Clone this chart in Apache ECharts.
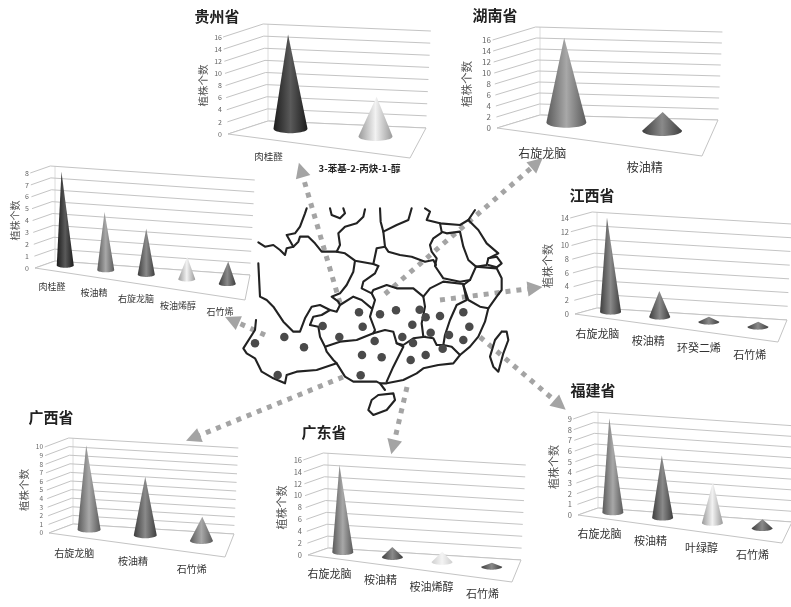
<!DOCTYPE html>
<html>
<head>
<meta charset="utf-8">
<style>
html, body { margin: 0; padding: 0; background: #fff; }
#main { width: 791px; height: 607px; filter: blur(0.55px); }
</style>
<script src="https://cdn.jsdelivr.net/npm/echarts@6/dist/echarts.min.js"></script>
</head>
<body>
<div id="main"></div>
<script>
var FONT = '"Noto Sans CJK SC"';

// plant counts per compound, one pair of lists per province
var guizhouCats = ["肉桂醛", "3-苯基-2-丙炔-1-醇"];
var guizhouVals = [16, 7];
var yunnanCats = ["肉桂醛", "桉油精", "右旋龙脑", "桉油烯醇", "石竹烯"];
var yunnanVals = [8, 5, 4, 2, 2];
var hunanCats = ["右旋龙脑", "桉油精"];
var hunanVals = [16, 4];
var jiangxiCats = ["右旋龙脑", "桉油精", "环癸二烯", "石竹烯"];
var jiangxiVals = [14, 4, 1, 1];
var fujianCats = ["右旋龙脑", "桉油精", "叶绿醇", "石竹烯"];
var fujianVals = [9, 6, 4, 1];
var guangdongCats = ["右旋龙脑", "桉油精", "桉油烯醇", "石竹烯"];
var guangdongVals = [15, 2, 2, 1];
var guangxiCats = ["右旋龙脑", "桉油精", "石竹烯"];
var guangxiVals = [10, 7, 3];

// y axis ticks
var ticks16 = [0, 2, 4, 6, 8, 10, 12, 14, 16];
var ticks14 = [0, 2, 4, 6, 8, 10, 12, 14];
var ticks10 = [0, 1, 2, 3, 4, 5, 6, 7, 8, 9, 10];
var ticks9 = [0, 1, 2, 3, 4, 5, 6, 7, 8, 9];
var ticks8 = [0, 1, 2, 3, 4, 5, 6, 7, 8];

// map outline, units are 1/3 px from the map corner
var mapBorders = [
    [[85, 157], [105, 170], [130, 165], [150, 180], [165, 195], [170, 175], [190, 170], [170, 135], [195, 130], [210, 110], [225, 70], [230, 55]],
    [[190, 170], [205, 155], [210, 140], [235, 140], [255, 160], [275, 185], [320, 185], [345, 190], [375, 212], [430, 222], [445, 228]],
    [[320, 185], [330, 165], [325, 130], [345, 110], [380, 100], [400, 80], [405, 58]],
    [[300, 55], [305, 75], [330, 85], [345, 70], [340, 55]],
    [[450, 55], [452, 95], [460, 125], [465, 170], [440, 175], [430, 222]],
    [[460, 125], [500, 105], [535, 90], [545, 55]],
    [[465, 170], [475, 185], [510, 195], [545, 200], [585, 215], [610, 210], [618, 225]],
    [[635, 128], [610, 145], [600, 165], [605, 185], [620, 205], [615, 228], [640, 265], [690, 275], [720, 270], [738, 230]],
    [[585, 55], [600, 65], [590, 90], [630, 100], [690, 105], [715, 90], [735, 60]],
    [[630, 100], [635, 125], [650, 130], [690, 125], [700, 170], [715, 210], [738, 230], [770, 225], [775, 205], [805, 190], [770, 160], [745, 120], [715, 90]],
    [[775, 205], [800, 200], [815, 220], [800, 232], [775, 225]],
    [[738, 230], [800, 235], [815, 265], [815, 300], [800, 320], [775, 355], [765, 395], [745, 440], [720, 470], [690, 495]],
    [[700, 285], [715, 330], [750, 350], [775, 355]],
    [[720, 270], [700, 285], [710, 330], [680, 345], [660, 390], [645, 435], [640, 465], [665, 470], [690, 495], [670, 520], [625, 525], [580, 535], [560, 550], [520, 570], [470, 580], [450, 580]],
    [[445, 228], [435, 250], [400, 275], [395, 295], [425, 310], [430, 300], [470, 285], [500, 295], [550, 295], [580, 320], [600, 295], [640, 275], [700, 282]],
    [[580, 320], [585, 350], [575, 400], [580, 440], [610, 445], [620, 465], [640, 465]],
    [[425, 310], [435, 330], [420, 380], [435, 420], [430, 430], [465, 420], [490, 425], [500, 460], [520, 470], [490, 530], [470, 575]],
    [[500, 460], [520, 465], [550, 445], [585, 440]],
    [[375, 212], [370, 245], [350, 285], [330, 310], [305, 320], [325, 335], [330, 345]],
    [[85, 220], [90, 320], [110, 330], [130, 350], [160, 395], [190, 425], [210, 425], [225, 385], [245, 350], [270, 345], [300, 360], [320, 365], [330, 345], [370, 320], [395, 330], [425, 355]],
    [[240, 405], [250, 380], [275, 375], [300, 360]],
    [[240, 405], [265, 410], [270, 440], [285, 470], [290, 485], [310, 510], [320, 520], [345, 560], [370, 575], [440, 575], [450, 580], [465, 600]],
    [[285, 470], [330, 455], [380, 450], [430, 430]],
    [[78, 390], [75, 420], [40, 475], [50, 490], [75, 505], [95, 545], [130, 565], [165, 580], [170, 555], [200, 545], [260, 540], [320, 520]],
    [[815, 425], [830, 425], [835, 450], [820, 490], [805, 545], [790, 530], [780, 500], [795, 450], [815, 425]],
    [[445, 615], [490, 610], [495, 630], [470, 660], [430, 675], [415, 660], [425, 630], [445, 615]]
];

// sampling sites on the map
var siteDots = [[75, 460], [163, 441], [222, 472], [143, 555], [278, 408], [328, 441], [387, 367], [398, 410], [392, 556], [396, 495], [455, 502], [434, 453], [450, 373], [498, 361], [547, 404], [569, 359], [517, 441], [549, 459], [587, 382], [630, 378], [602, 428], [638, 476], [587, 495], [542, 510], [657, 435], [700, 367], [718, 410], [700, 450]];

// arrows from the map out to each panel (page px)
var arrowRoutes = [
    [[340, 303], [301, 170]],
    [[385, 294], [537, 163]],
    [[440, 300], [535, 288]],
    [[480, 337], [560, 405]],
    [[407, 387], [393, 447]],
    [[343, 377], [193, 438]],
    [[265, 335], [232, 320]]
];

// cone colours: [edge, middle]
var DARKEST = ["#1c1c1c", "#5a5a5a"], DARK = ["#3e3e3e", "#8a8a8a"], MID = ["#5a5a5a", "#a8a8a8"], LIGHT = ["#9a9a9a", "#f2f2f2"], PALE = ["#cfcfcf", "#f4f4f4"];

// fl/fr/bl/br: floor corners. titlePos: title centre. labelOff: category label offset from the front edge
var panels = [
    {title: "贵州省", titlePos: [217, 18], cats: guizhouCats, vals: guizhouVals, ticks: ticks16, shades: [DARKEST, LIGHT],
        fl: [228, 134], fr: [410, 158], bl: [268, 121], br: [426, 128], top: 37, step: 2,
        hw: 17, labelOff: [-5, 16], labelSize: 9.5, tickSize: 7, nameSize: 10.5, nameGap: 20, boldLast: true},
    {title: "", cats: yunnanCats, vals: yunnanVals, ticks: ticks8, shades: [DARKEST, MID, DARK, LIGHT, DARK],
        fl: [35, 268], fr: [245, 300], bl: [55, 261], br: [250, 275], top: 173, step: 1,
        hw: 8.5, labelOff: [-4, 15], labelSize: 9, tickSize: 7, nameSize: 10, nameGap: 15},
    {title: "湖南省", titlePos: [495, 17], cats: hunanCats, vals: hunanVals, ticks: ticks16, shades: [MID, DARK],
        fl: [497, 128], fr: [702, 156], bl: [540, 115], br: [718, 120], top: 40, step: 2,
        hw: 20, labelOff: [-6, 18], labelSize: 12, tickSize: 8, nameSize: 11.5, nameGap: 25},
    {title: "江西省", titlePos: [592, 197], cats: jiangxiCats, vals: jiangxiVals, ticks: ticks14, shades: [DARK, DARK, DARK, DARK],
        fl: [575, 314], fr: [778, 342], bl: [597, 308], br: [787, 320], top: 218, step: 2,
        hw: 10.5, labelOff: [-3, 16], labelSize: 11, tickSize: 7.5, nameSize: 11, nameGap: 22},
    {title: "福建省", titlePos: [593, 392], cats: fujianCats, vals: fujianVals, ticks: ticks9, shades: [MID, DARK, LIGHT, DARK],
        fl: [578, 515], fr: [782, 543], bl: [598, 508], br: [792, 522], top: 419, step: 1,
        hw: 10.5, labelOff: [-4, 15], labelSize: 11, tickSize: 7.5, nameSize: 11, nameGap: 19},
    {title: "广东省", titlePos: [324, 434], cats: guangdongCats, vals: guangdongVals, ticks: ticks16, shades: [MID, DARK, PALE, DARK],
        fl: [308, 555], fr: [512, 582], bl: [328, 548], br: [521, 560], top: 460, step: 2,
        hw: 10.5, labelOff: [-4, 15], labelSize: 11, tickSize: 7.5, nameSize: 11, nameGap: 21},
    {title: "广西省", titlePos: [51, 419], cats: guangxiCats, vals: guangxiVals, ticks: ticks10, shades: [MID, DARK, MID],
        fl: [49, 533], fr: [225, 557], bl: [73, 524], br: [234, 534], top: 447, step: 1,
        hw: 11.5, labelOff: [-4, 16], labelSize: 10, tickSize: 6.5, nameSize: 10.5, nameGap: 20}
];

var LEAN = 0.05;

function lerp(a, b, t) {
    return [a[0] + (b[0] - a[0]) * t, a[1] + (b[1] - a[1]) * t];
}

// flat grid pixel -> skewed box on the page
function project(p, sys, px, py, depth) {
    var u = (px - sys.x) / sys.width;
    var h = sys.y + sys.height - py;
    var floor = lerp(lerp(p.fl, p.fr, u), lerp(p.bl, p.br, u), depth);
    return [floor[0] + LEAN * h * (2 * u - 1), floor[1] - h];
}

function wallRender(p) {
    return function (params, api) {
        var sys = params.coordSys;
        var y = api.coord([0, api.value(1)])[1];
        var left = sys.x, right = sys.x + sys.width;
        var line = {
            type: "polyline",
            shape: {points: [project(p, sys, left, y, 0), project(p, sys, left, y, 1), project(p, sys, right, y, 1)]},
            style: {stroke: "#c4c4c4", lineWidth: 1, fill: null}
        };
        if (api.value(1) !== 0) return line;
        var bottom = sys.y + sys.height;
        return {
            type: "group",
            children: [line, {
                type: "polygon",
                shape: {points: [project(p, sys, left, bottom, 0), project(p, sys, right, bottom, 0), project(p, sys, right, bottom, 1), project(p, sys, left, bottom, 1)]},
                style: {stroke: "#c4c4c4", lineWidth: 1, fill: "#fff"}
            }, {
                type: "line",
                shape: {x1: p.bl[0], y1: p.bl[1], x2: p.bl[0], y2: p.bl[1] - sys.height},
                style: {stroke: "#dcdcdc", lineWidth: 1}
            }]
        };
    };
}

function coneRender(p) {
    return function (params, api) {
        var sys = params.coordSys;
        var i = params.dataIndex;
        var base = api.coord([api.value(0), 0]);
        var apex = project(p, sys, base[0], api.coord([api.value(0), api.value(1)])[1], 0.5);
        var c = project(p, sys, base[0], base[1], 0.5);
        var ry = p.hw * 0.27;
        // base rim sits a little behind the floor midline
        c[1] -= ry * 0.6;
        var pts = [apex];
        for (var a = 0; a <= 24; a++) {
            var t = Math.PI * a / 24;
            pts.push([c[0] + p.hw * Math.cos(t), c[1] + ry * Math.sin(t)]);
        }
        var s = p.shades[i];
        var front = lerp(p.fl, p.fr, (base[0] - sys.x) / sys.width);
        var bold = p.boldLast && i === p.cats.length - 1;
        return {
            type: "group",
            children: [{
                type: "polygon",
                shape: {points: pts},
                style: {
                    fill: new echarts.graphic.LinearGradient(0, 0, 1, 0, [
                        {offset: 0, color: s[0]},
                        {offset: 0.5, color: s[1]},
                        {offset: 1, color: s[0]}
                    ])
                }
            }, {
                type: "text",
                style: {
                    text: p.cats[i],
                    x: front[0] + p.labelOff[0],
                    y: front[1] + p.labelOff[1],
                    align: "center",
                    verticalAlign: "middle",
                    fill: bold ? "#222" : "#333",
                    font: (bold ? "bold " : "") + p.labelSize + "px " + FONT
                }
            }]
        };
    };
}

var grids = [], xAxes = [], yAxes = [], series = [], titles = [];

panels.forEach(function (p, idx) {
    var max = p.ticks[p.ticks.length - 1];
    grids.push({left: p.fl[0], top: p.top, width: p.fr[0] - p.fl[0], height: p.fl[1] - p.top});
    xAxes.push({gridIndex: idx, type: "category", data: p.cats, show: false});
    yAxes.push({
        gridIndex: idx, type: "value", min: 0, max: max, interval: p.step,
        name: "植株个数", nameLocation: "middle", nameRotate: 90, nameGap: p.nameGap,
        nameTextStyle: {color: "#555", fontSize: p.nameSize, fontFamily: FONT},
        axisLine: {show: false}, axisTick: {show: false}, splitLine: {show: false},
        axisLabel: {color: "#666", fontSize: p.tickSize, margin: 6, fontFamily: FONT}
    });
    series.push({
        type: "custom", xAxisIndex: idx, yAxisIndex: idx, silent: true, z: 1,
        data: p.ticks.map(function (t) { return [0, t]; }),
        encode: {x: 0, y: 1},
        renderItem: wallRender(p)
    });
    series.push({
        type: "custom", xAxisIndex: idx, yAxisIndex: idx, silent: true, z: 2,
        data: p.cats.map(function (c, i) { return [i, p.vals[i]]; }),
        encode: {x: 0, y: 1},
        renderItem: coneRender(p)
    });
    if (p.title) {
        titles.push({
            text: p.title, left: p.titlePos[0], top: p.titlePos[1] - 9, textAlign: "center", padding: 0,
            textStyle: {color: "#222", fontSize: 15, fontWeight: "bold", fontFamily: FONT}
        });
    }
});

// two hidden grids: one over the map, one over the whole page for the arrows
var mapIdx = panels.length, pageIdx = panels.length + 1;
grids.push({left: 230, top: 190, width: 300, height: 240});
xAxes.push({gridIndex: mapIdx, type: "value", min: 0, max: 900, show: false});
yAxes.push({gridIndex: mapIdx, type: "value", min: 0, max: 720, inverse: true, show: false});
grids.push({left: 0, top: 0, width: 791, height: 607});
xAxes.push({gridIndex: pageIdx, type: "value", min: 0, max: 791, show: false});
yAxes.push({gridIndex: pageIdx, type: "value", min: 0, max: 607, inverse: true, show: false});

series.push({
    type: "lines", coordinateSystem: "cartesian2d", xAxisIndex: pageIdx, yAxisIndex: pageIdx,
    clip: false, silent: true, z: 3,
    symbol: ["none", "triangle"], symbolSize: 15,
    lineStyle: {color: "#a4a4a4", width: 5, type: [5, 6], opacity: 1, curveness: 0},
    data: arrowRoutes.map(function (r) { return {coords: r}; })
});
series.push({
    type: "lines", coordinateSystem: "cartesian2d", xAxisIndex: mapIdx, yAxisIndex: mapIdx,
    polyline: true, clip: false, silent: true, z: 4,
    lineStyle: {color: "#222", width: 2.1, opacity: 1, join: "round", cap: "round"},
    data: mapBorders.map(function (b) { return {coords: b}; })
});
series.push({
    type: "scatter", xAxisIndex: mapIdx, yAxisIndex: mapIdx, silent: true, z: 5,
    symbol: "circle", symbolSize: 8.5,
    itemStyle: {color: "#4a4a4a", opacity: 1},
    data: siteDots
});

var chart = echarts.init(document.getElementById("main"));
chart.setOption({
    animation: false,
    backgroundColor: "#fff",
    title: titles,
    grid: grids,
    xAxis: xAxes,
    yAxis: yAxes,
    series: series
});
</script>
</body>
</html>
